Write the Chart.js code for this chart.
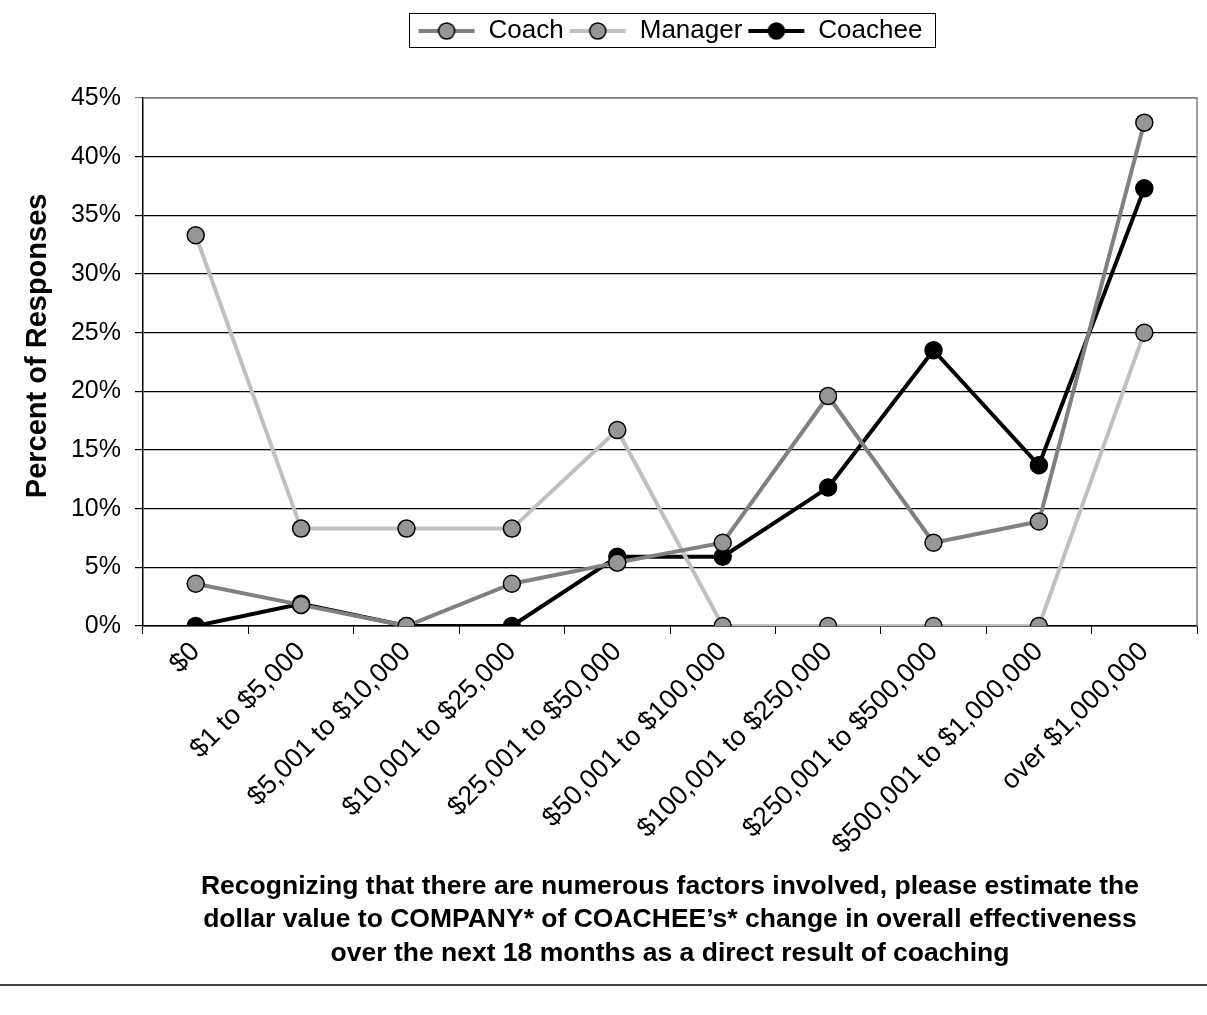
<!DOCTYPE html>
<html>
<head>
<meta charset="utf-8">
<script src="https://cdn.jsdelivr.net/npm/chart.js@4.4.0/dist/chart.umd.min.js"></script>
<style>
html, body { margin: 0; padding: 0; background: #fff; }
#wrap { width: 1207px; height: 1015px; position: relative; }
</style>
</head>
<body>
<div id="wrap"><canvas id="chart"></canvas></div>
<script>
// Data (percent of responses)
const categories = ['$0', '$1 to $5,000', '$5,001 to $10,000', '$10,001 to $25,000',
    '$25,001 to $50,000', '$50,001 to $100,000', '$100,001 to $250,000',
    '$250,001 to $500,000', '$500,001 to $1,000,000', 'over $1,000,000'];
const coach = [3.6, 1.8, 0, 3.6, 5.4, 7.1, 19.6, 7.1, 8.9, 42.9];
const manager = [33.3, 8.3, 8.3, 8.3, 16.7, 0, 0, 0, 0, 25.0];
const coachee = [0, 1.9, 0, 0, 5.9, 5.9, 11.8, 23.5, 13.7, 37.3];
const seriesNames = ['Coach', 'Manager', 'Coachee'];
const xTitle = ['Recognizing that there are numerous factors involved, please estimate the',
    'dollar value to COMPANY* of COACHEE\u2019s* change in overall effectiveness',
    'over the next 18 months as a direct result of coaching'];
const yTitle = '    Percent of Responses';

const lineColors = ['#808080', '#c0c0c0', '#000000'];
const markerColors = ['#969696', '#969696', '#000000'];
const FONT = '"Liberation Sans", Arial, sans-serif';

// legend sample: short line with the marker in the middle
function legendSample(lineColor, fill) {
    const c = document.createElement('canvas');
    c.width = 58;
    c.height = 22;
    const ctx = c.getContext('2d');
    ctx.strokeStyle = lineColor;
    ctx.lineWidth = 4;
    ctx.beginPath();
    ctx.moveTo(1, 11);
    ctx.lineTo(57, 11);
    ctx.stroke();
    ctx.beginPath();
    ctx.arc(29, 11, 8, 0, Math.PI * 2);
    ctx.fillStyle = fill;
    ctx.fill();
    ctx.lineWidth = 1.5;
    ctx.strokeStyle = '#000';
    ctx.stroke();
    return c;
}

const extras = {
    id: 'extras',
    // leave a gap between legend and plot
    beforeLayout(chart) {
        const lg = chart.legend;
        if (lg && !lg._gapPatched) {
            const fit = lg.fit.bind(lg);
            lg.fit = function () {
                fit();
                this.height += 44;
            };
            lg._gapPatched = true;
        }
    },
    // center the legend on the plot area, like the original
    afterLayout(chart) {
        const lg = chart.legend;
        const a = chart.chartArea;
        const dx = (a.left + a.right) / 2 - (lg.left + lg.right) / 2;
        lg.left += dx;
        lg.right += dx;
        (lg.legendHitBoxes || []).forEach((b) => { b.left += dx; });
    },
    afterDraw(chart) {
        const ctx = chart.ctx;
        const a = chart.chartArea;
        ctx.save();
        // grey frame on top and right of plot
        ctx.strokeStyle = '#808080';
        ctx.lineWidth = 1.5;
        ctx.beginPath();
        ctx.moveTo(a.left, a.top);
        ctx.lineTo(a.right, a.top);
        ctx.lineTo(a.right, a.bottom);
        ctx.stroke();
        // legend border
        const boxes = chart.legend.legendHitBoxes;
        if (boxes && boxes.length) {
            const first = boxes[0];
            const last = boxes[boxes.length - 1];
            ctx.strokeStyle = '#000';
            ctx.lineWidth = 1;
            ctx.strokeRect(Math.round(first.left - 9) + 0.5, Math.round(first.top - 5) + 0.5,
                Math.round(last.left + last.width - first.left + 21), Math.round(first.height + 8));
        }
        // rule at the bottom of the page
        ctx.strokeStyle = '#404040';
        ctx.lineWidth = 2;
        ctx.beginPath();
        ctx.moveTo(0, 985);
        ctx.lineTo(chart.width, 985);
        ctx.stroke();
        ctx.restore();
    }
};

const datasets = [coach, manager, coachee].map((values, i) => ({
    label: seriesNames[i],
    data: values,
    borderColor: lineColors[i],
    backgroundColor: markerColors[i],
    borderWidth: 4,
    pointRadius: 8.5,
    pointHoverRadius: 8.5,
    pointBackgroundColor: markerColors[i],
    pointBorderColor: '#000',
    pointBorderWidth: 1.5,
    tension: 0,
    fill: false
}));

new Chart(document.getElementById('chart'), {
    type: 'line',
    data: { labels: categories, datasets: datasets },
    plugins: [extras],
    options: {
        responsive: true,
        maintainAspectRatio: false,
        animation: false,
        layout: { padding: { left: 0, right: 4, top: 13, bottom: 45 } },
        plugins: {
            tooltip: { enabled: false },
            legend: {
                position: 'top',
                labels: {
                    usePointStyle: true,
                    pointStyleWidth: 58,
                    padding: 5,
                    color: '#000',
                    font: { family: FONT, size: 26 },
                    generateLabels: function (chart) {
                        return chart.data.datasets.map((ds, i) => ({
                            text: ds.label,
                            pointStyle: legendSample(lineColors[i], markerColors[i]),
                            datasetIndex: i,
                            hidden: false,
                            fontColor: '#000',
                            lineWidth: 0
                        }));
                    }
                }
            }
        },
        scales: {
            x: {
                offset: true,
                grid: {
                    offset: true,
                    drawOnChartArea: false,
                    color: '#000',
                    tickLength: 8,
                    tickWidth: 1
                },
                border: { color: '#000', width: 1.5 },
                ticks: {
                    maxRotation: 45,
                    minRotation: 45,
                    autoSkip: false,
                    padding: 2,
                    color: '#000',
                    font: { family: FONT, size: 27 }
                },
                title: {
                    display: true,
                    text: xTitle,
                    color: '#000',
                    padding: { top: 0, bottom: 0 },
                    font: { family: FONT, size: 26.5, weight: 'bold', lineHeight: 1.26 }
                },
                afterFit: function (scale) { scale.height = 344; }
            },
            y: {
                min: 0,
                max: 45,
                grid: {
                    color: (ctx) => ctx.tick && ctx.tick.value === 45 ? '#808080' : '#000',
                    lineWidth: 1.2,
                    tickLength: 8,
                    drawTicks: true
                },
                border: { color: '#000', width: 1.5 },
                ticks: {
                    stepSize: 5,
                    padding: 14,
                    color: '#000',
                    font: { family: FONT, size: 25 },
                    callback: (v) => v + '%'
                },
                title: {
                    display: true,
                    text: yTitle,
                    color: '#000',
                    padding: { top: 21, bottom: 0 },
                    font: { family: FONT, size: 29, weight: 'bold' }
                },
                afterFit: function (scale) { scale.width = 143; }
            }
        }
    }
});
</script>
</body>
</html>
